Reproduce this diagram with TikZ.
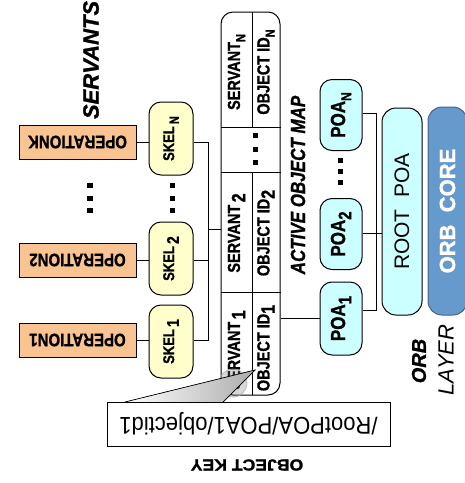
\documentclass[tikz,border=0pt]{standalone}
\usepackage{fontspec}
\setmainfont{Liberation Sans}[BoldFeatures={FakeBold=1.2},BoldItalicFeatures={FakeBold=1.2}]
\usetikzlibrary{calc}
\definecolor{opfill}{RGB}{250,196,146}
\definecolor{skelfill}{RGB}{255,255,204}
\definecolor{poafill}{RGB}{204,255,255}
\definecolor{corefill}{RGB}{102,153,204}
\definecolor{coredraw}{RGB}{70,100,140}
\newcommand\fsz[1]{\fontsize{#1}{#1}\selectfont}
\newcommand\lowr[2]{\raisebox{-0.3em}{\fsz{#1}#2}}
\newcommand\rtx[1]{\rotatebox{90}{\scalebox{1}[1.2]{#1}}}
\newcommand\utx[1]{\rotatebox{180}{\scalebox{1}[1.2]{#1}}}
\begin{document}
\begin{tikzpicture}[x=1pt,y=-1pt,line width=1pt,
  opbox/.style={draw,fill=opfill,minimum width=117pt,minimum height=34pt,inner sep=0pt,font=\bfseries\fsz{15}},
  skelbox/.style={draw,fill=skelfill,rounded corners=12pt,minimum width=44pt,minimum height=73pt,inner sep=0pt,font=\bfseries\fsz{13}},
  poabox/.style={draw,fill=poafill,rounded corners=12pt,minimum width=42pt,minimum height=71pt,inner sep=0pt,font=\bfseries\fsz{17}},
  cell/.style={inner sep=0pt,font=\bfseries\fsz{14.5}},
  sqdot/.style={fill=black,inner sep=0pt,minimum width=5pt,minimum height=5pt}]
\useasboundingbox (0,0) rectangle (465,483);

% operations
\node[opbox] (opK) at (77.5,142) {\utx{OPERATIONK}};
\node[opbox] (op2) at (77.5,260) {\utx{OPERATION2}};
\node[opbox] (op1) at (77.5,340) {\utx{OPERATION1}};

% skeletons
\node[skelbox] (skelN) at (171,138.5) {\rtx{SKEL\,\lowr{11}{N}}};
\node[skelbox] (skel2) at (171,258.5) {\rtx{SKEL\,\lowr{14}{2}}};
\node[skelbox] (skel1) at (171,341.5) {\rtx{SKEL\,\lowr{14}{1}}};

% active object map
\node[draw,fill=white,rounded corners=12pt,minimum width=59pt,minimum height=383pt,inner sep=0pt] (aom) at (250.5,203.5) {};
\draw (aom.west |- 0,127) -- (aom.east |- 0,127);
\draw (aom.west |- 0,172) -- (aom.east |- 0,172);
\draw (aom.west |- 0,292) -- (aom.east |- 0,292);
\draw (252,12) -- (252,127);
\draw (252,172) -- (252,395);
\node[cell] (svN) at (236.5,72) {\rtx{SERVANT\lowr{11}{N}}};
\node[cell] (oiN) at (266,72) {\rtx{OBJECT ID\lowr{11}{N}}};
\node[cell] (sv2) at (236.5,233) {\rtx{SERVANT\,\lowr{16}{2}}};
\node[cell] (oi2) at (266,233) {\rtx{OBJECT ID\lowr{16}{2}}};
\node[cell] (sv1) at (236.5,350) {\rtx{SERVANT\,\lowr{16}{1}}};
\node[cell] (oi1) at (266,348) {\rtx{OBJECT ID\lowr{16}{1}}};
\node[sqdot] (td1) at (255,135) {};
\node[sqdot] (td2) at (255,149) {};
\node[sqdot] (td3) at (255,162) {};

% servant dots
\node[sqdot,minimum width=6pt] (od1) at (90,185) {};
\node[sqdot,minimum width=6pt] (od2) at (90,198) {};
\node[sqdot,minimum width=6pt] (od3) at (90,210) {};
\node[sqdot] (sd1) at (172.5,185) {};
\node[sqdot] (sd2) at (172.5,198) {};
\node[sqdot] (sd3) at (172.5,210) {};

% operation to skeleton connectors
\draw (opK.east) -- (opK.east -| skelN.west);
\draw (op2.east) -- (op2.east -| skel2.west);
\draw (op1.east) -- (op1.east -| skel1.west);
\coordinate (b1) at (208,142);
\coordinate (b2) at (208,260);
\coordinate (b3) at (208,340);
\coordinate (bt) at (208,229);
\draw (skelN.east |- b1) -- (b1) -- (b3) -- (skel1.east |- b3);
\draw (skel2.east |- b2) -- (b2);
\draw (bt) -- (bt -| aom.west);

% POAs
\node[poabox] (poaN) at (341,115) {\rtx{POA\lowr{12}{N}}};
\node[poabox] (poa2) at (341,234) {\rtx{POA\lowr{15}{2}}};
\node[poabox,minimum height=73pt] (poa1) at (341,318.5) {\rtx{POA\lowr{15}{1}}};
\node[sqdot] (pd1) at (340.5,160) {};
\node[sqdot] (pd2) at (340.5,171) {};
\node[sqdot] (pd3) at (340.5,182) {};
\node[draw,fill=poafill,rounded corners=14pt,minimum width=40pt,minimum height=207pt,inner sep=0pt,font=\fsz{21}] (root) at (402,211.5) {\rotatebox{90}{ROOT\ \ POA}};
\node[draw=coredraw,fill=corefill,rounded corners=14pt,minimum width=39pt,minimum height=208pt,inner sep=0pt,font=\bfseries\fsz{22},text=white] (core) at (447.5,211) {\rotatebox{90}{ORB\ \ CORE}};
\coordinate (p1) at (376,113);
\coordinate (p2) at (376,233);
\coordinate (p3) at (376,310);
\draw (poaN.east |- p1) -- (p1) -- (p3) -- (poa1.east |- p3);
\draw (poa2.east |- p2) -- (root.west |- p2);
\coordinate (k1) at (280,318);
\draw (aom.east |- k1) -- (poa1.west |- k1);

% labels
\node[font=\bfseries\itshape\fsz{22},inner sep=0pt] (lblserv) at (91,60) {\rotatebox{90}{SERVANTS}};
\node[font=\bfseries\itshape\fsz{17},inner sep=0pt] (lblaom) at (298,185) {\rtx{ACTIVE OBJECT MAP}};
\node[font=\bfseries\itshape\fsz{20},inner sep=0pt] (lblorb) at (419,361) {\rotatebox{90}{ORB}};
\node[font=\itshape\fsz{22},inner sep=0pt] (lbllayer) at (446,360) {\rotatebox{90}{LAYER}};

% callout
\fill[gray,opacity=0.3] (233,383) circle (14);
\draw[gray!60,line width=0.6pt] (233,383) circle (14);
\fill[left color=white,right color=gray!65] (125,402) -- (255,370) -- (223,402) -- cycle;
\draw[line width=0.7pt] (125,402) -- (255,370) -- (223,402);
\node[draw,fill=white,minimum width=283pt,minimum height=44pt,inner sep=0pt,font=\fsz{22}] (key) at (248.5,424) {\rotatebox{180}{\scalebox{1}[1.1]{/RootPOA/POA1/objectid1}}};
\node[font=\bfseries\fsz{16},inner sep=0pt] (lblkey) at (247,465) {\rotatebox{180}{\scalebox{1.1}[1]{OBJECT KEY}}};
\end{tikzpicture}
\end{document}
